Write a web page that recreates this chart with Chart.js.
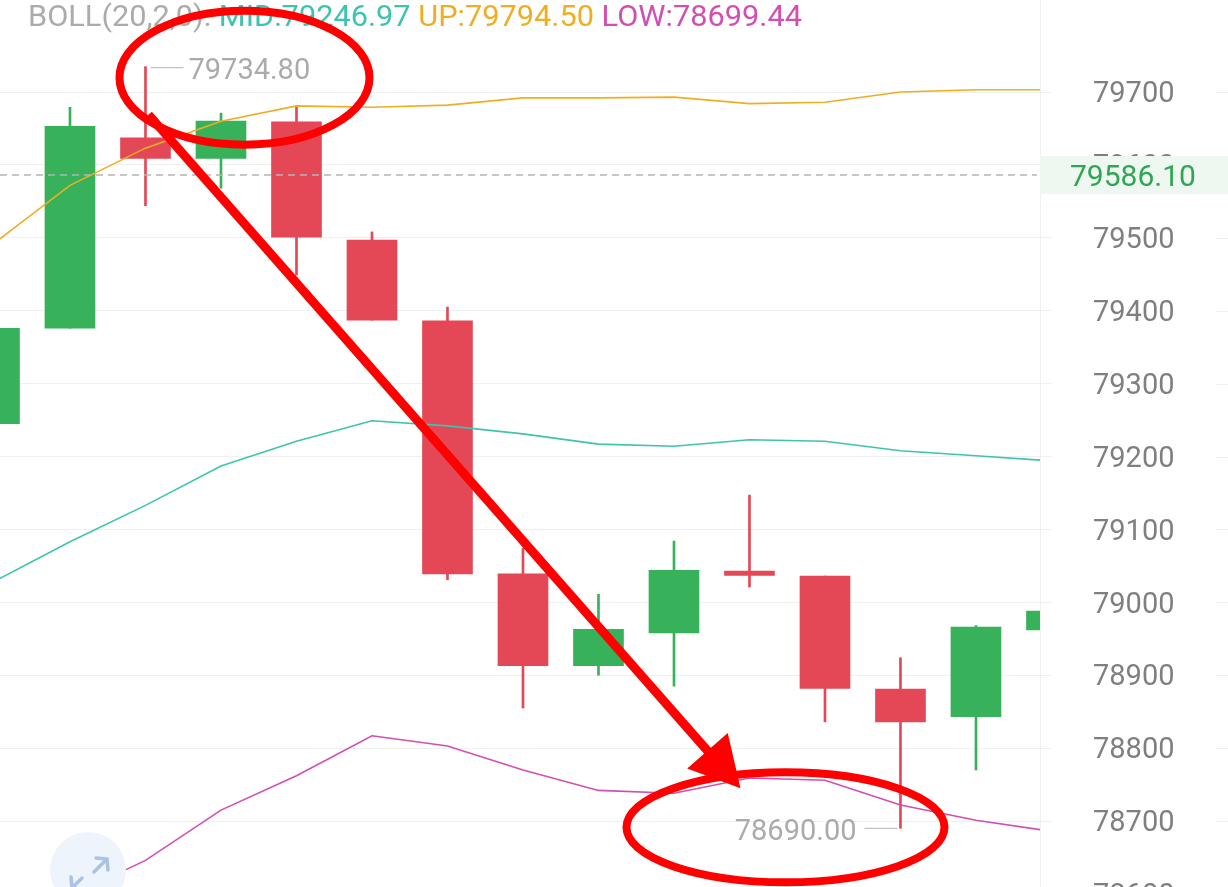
<!DOCTYPE html>
<html>
<head>
<meta charset="utf-8">
<script src="https://cdn.jsdelivr.net/npm/chart.js@4.4.1/dist/chart.umd.min.js"></script>
<style>
html,body{margin:0;padding:0;background:#fff;overflow:hidden;width:1228px;height:887px;}
canvas{display:block;}
</style>
</head>
<body>
<canvas id="c" width="1228" height="940"></canvas>
<script>
// ---- data ----
const candleIndex = [0,1,2,3,4,5,6,7,8,9,10,11,12,13,14];
const opens  = [79245, 79376, 79637, 79609, 79659, 79497, 79386, 79039, 78913, 78958, 79043, 79036, 78881, 78843, 78962];
const closes = [79376, 79653, 79609, 79660, 79501, 79387, 79039, 78913, 78963, 79044, 79037, 78882, 78836, 78966, 78988];
const highs  = [79390, 79679, 79734.8, 79671, 79679, 79508, 79405, 79074, 79011, 79084, 79147, 79036, 78924, 78968, 79000];
const lows   = [79230, 79376, 79544, 79568, 79449, 79387, 79031, 78855, 78900, 78885, 79021, 78836, 78690, 78770, 78950];
const bollUp  = [79493, 79572, 79623, 79660, 79681, 79679, 79682, 79692, 79692, 79693, 79684, 79686, 79700, 79703, 79703];
const bollMid = [79029, 79083, 79133, 79187, 79221, 79249, 79242, 79231, 79217, 79214, 79223, 79221, 79208, 79201, 79194];
const bollLow = [78565, 78597, 78646, 78715, 78762, 78817, 78803, 78770, 78742, 78738, 78759, 78756, 78722, 78701, 78686];
const yTicks = [78600, 78700, 78800, 78900, 79000, 79100, 79200, 79300, 79400, 79500, 79600, 79700];
const lastPrice = 79586.10;
const legendParts = [
  ['BOLL(20,2,0): ', '#ababab'],
  ['MID:79246.97 ', '#3ec4ae'],
  ['UP:79794.50 ', '#efae22'],
  ['LOW:78699.44', '#d24eb3']
];

const GREEN = '#37b25a', RED = '#e44856';
const colorOf = i => closes[i] >= opens[i] ? GREEN : RED;

const wickData = candleIndex.map(i => ({x: i, y: [lows[i], highs[i]]}));
const bodyData = candleIndex.map(i => ({x: i, y: [opens[i], closes[i]]}));
const lineData = arr => candleIndex.map(i => ({x: i, y: arr[i]}));

const FONT = 'Roboto, "Noto Sans", sans-serif';

function extremes() {
  let hiI = 0, loI = 0;
  candleIndex.forEach(i => { if (highs[i] > highs[hiI]) hiI = i; if (lows[i] < lows[loI]) loI = i; });
  return {hiI, loI};
}

const extras = {
  id: 'extras',
  afterDatasetsDraw(chart) {
    const {ctx, scales: {x, y}, chartArea} = chart;
    // last price dashed line
    ctx.save();
    const py = y.getPixelForValue(lastPrice);
    ctx.strokeStyle = '#b4b4b4';
    ctx.lineWidth = 1.5;
    ctx.setLineDash([7, 5]);
    ctx.beginPath(); ctx.moveTo(chartArea.left, py); ctx.lineTo(chartArea.right - 3, py); ctx.stroke();
    ctx.restore();

    // high / low markers
    const {hiI, loI} = extremes();
    ctx.save();
    ctx.font = '29px ' + FONT;
    ctx.fillStyle = '#ababab'; ctx.strokeStyle = '#c4c4c4'; ctx.lineWidth = 1.2;
    ctx.textBaseline = 'middle';
    const hx = x.getPixelForValue(hiI), hy = y.getPixelForValue(highs[hiI]);
    ctx.beginPath(); ctx.moveTo(hx + 5, hy + 1); ctx.lineTo(hx + 38, hy + 1); ctx.stroke();
    ctx.textAlign = 'left';
    ctx.fillText(highs[hiI].toFixed(2), hx + 43, hy + 5);
    const lx = x.getPixelForValue(loI), ly = y.getPixelForValue(lows[loI]);
    ctx.beginPath(); ctx.moveTo(lx - 36, ly); ctx.lineTo(lx - 3, ly); ctx.stroke();
    ctx.textAlign = 'right';
    ctx.fillText(lows[loI].toFixed(2), lx - 44, ly + 4);
    ctx.restore();
  },
  afterDraw(chart) {
    const {ctx, scales: {x, y}, chartArea, width} = chart;
    // grid ticks on far right
    ctx.save();
    ctx.strokeStyle = '#f0f0f0'; ctx.lineWidth = 1;
    yTicks.forEach(v => {
      const ty = Math.round(y.getPixelForValue(v)) + 0.5;
      ctx.beginPath(); ctx.moveTo(width - 13, ty); ctx.lineTo(width, ty); ctx.stroke();
    });
    // price box
    const py = y.getPixelForValue(lastPrice);
    ctx.fillStyle = '#eef8f1';
    ctx.fillRect(chartArea.right, py - 19, width - chartArea.right, 38);
    ctx.fillStyle = '#2fa653';
    ctx.font = '30px ' + FONT;
    ctx.textAlign = 'left'; ctx.textBaseline = 'middle';
    ctx.fillText(lastPrice.toFixed(2), chartArea.right + 30, py + 3);

    // legend
    ctx.font = '30px ' + FONT;
    let total = 0;
    legendParts.forEach(p => total += ctx.measureText(p[0]).width);
    const sc = 774 / total;
    ctx.save();
    ctx.translate(28, 18);
    ctx.scale(sc, 1);
    let cx = 0;
    legendParts.forEach(p => {
      ctx.fillStyle = p[1];
      ctx.fillText(p[0], cx, 0);
      cx += ctx.measureText(p[0]).width;
    });
    ctx.restore();

    // expand icon bottom-left
    ctx.fillStyle = '#eef4fc';
    ctx.beginPath(); ctx.arc(88, 870, 38, 0, Math.PI * 2); ctx.fill();
    ctx.strokeStyle = '#a9c3e7'; ctx.lineWidth = 3.5; ctx.lineCap = 'round';
    ctx.beginPath();
    ctx.moveTo(94, 872); ctx.lineTo(107, 859);
    ctx.moveTo(96, 858); ctx.lineTo(107, 859); ctx.lineTo(108, 870);
    ctx.moveTo(82, 878); ctx.lineTo(72, 888);
    ctx.moveTo(71, 877); ctx.lineTo(72, 888);
    ctx.stroke();
    ctx.restore();

    // red hand-drawn annotations
    const {hiI, loI} = extremes();
    const hx = x.getPixelForValue(hiI), hy = y.getPixelForValue(highs[hiI]);
    const lx = x.getPixelForValue(loI), ly = y.getPixelForValue(lows[loI]);
    ctx.save();
    ctx.strokeStyle = '#ff0000'; ctx.fillStyle = '#ff0000';
    ctx.lineWidth = 8;
    ctx.beginPath(); ctx.ellipse(hx + 99, hy + 11, 125, 67, 0, 0, Math.PI * 2); ctx.stroke();
    ctx.beginPath(); ctx.ellipse(lx - 115, ly - 1, 159, 55, 0, 0, Math.PI * 2); ctx.stroke();
    // arrow
    const sx = hx + 3, sy = hy + 48;
    const ex = lx - 160, ey = ly - 40;
    const ang = Math.atan2(ey - sy, ex - sx);
    const headLen = 50, headW = 27;
    const bx = ex - headLen * Math.cos(ang), by = ey - headLen * Math.sin(ang);
    ctx.lineWidth = 9; ctx.lineCap = 'butt';
    ctx.beginPath(); ctx.moveTo(sx, sy); ctx.lineTo(bx + 8 * Math.cos(ang), by + 8 * Math.sin(ang)); ctx.stroke();
    ctx.beginPath();
    ctx.moveTo(ex, ey);
    ctx.lineTo(bx + headW * Math.sin(ang), by - headW * Math.cos(ang));
    ctx.lineTo(bx - headW * Math.sin(ang), by + headW * Math.cos(ang));
    ctx.closePath(); ctx.fill();
    ctx.restore();
  }
};

new Chart(document.getElementById('c'), {
  type: 'bar',
  data: {
    datasets: [
      {type: 'line', label: 'UP', data: lineData(bollUp), borderColor: '#efae22', borderWidth: 1.6, pointRadius: 0, tension: 0, order: 0},
      {type: 'line', label: 'MID', data: lineData(bollMid), borderColor: '#3ec4ae', borderWidth: 1.6, pointRadius: 0, tension: 0, order: 0},
      {type: 'line', label: 'LOW', data: lineData(bollLow), borderColor: '#d24eb3', borderWidth: 1.6, pointRadius: 0, tension: 0, order: 0},
      {label: 'body', data: bodyData, backgroundColor: candleIndex.map(colorOf), barThickness: 50, grouped: false, order: 1, minBarLength: 4},
      {label: 'wick', data: wickData, backgroundColor: candleIndex.map(colorOf), barThickness: 2, grouped: false, order: 2}
    ]
  },
  options: {
    responsive: false,
    animation: false,
    layout: {padding: 0},
    plugins: {legend: {display: false}, tooltip: {enabled: false}},
    scales: {
      x: {
        type: 'linear', min: 0.073, max: 13.848, display: false,
        offset: false
      },
      y: {
        type: 'linear', position: 'right',
        min: 78536.8, max: 79826.2,
        afterFit(s) { s.width = 188; s.paddingTop = 0; s.paddingBottom = 0; },
        afterBuildTicks(s) { s.ticks = yTicks.map(v => ({value: v})); },
        grid: {color: '#f0f0f0', lineWidth: 1, drawTicks: true, tickLength: 12, tickColor: '#f0f0f0'},
        border: {display: true, color: '#f0f0f0'},
        ticks: {
          padding: 41,
          labelOffset: 3,
          color: '#7f7f7f',
          font: {family: FONT, size: 29},
          callback: v => String(v)
        }
      }
    }
  },
  plugins: [extras]
});
</script>
</body>
</html>
